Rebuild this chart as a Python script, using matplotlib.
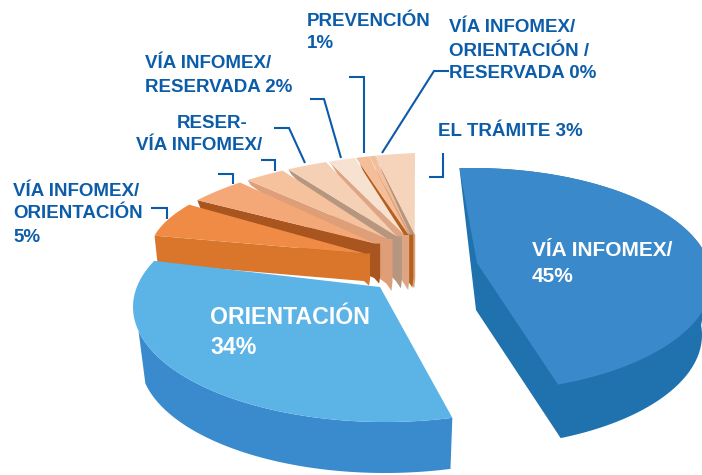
import numpy as np
import matplotlib
matplotlib.use("Agg")
import matplotlib.pyplot as plt

plt.rcParams['font.family'] = ['Liberation Sans', 'DejaVu Sans']

# --- data (percent, clockwise from the large slice) -------------------
categories = ["VÍA INFOMEX", "ORIENTACIÓN", "VÍA INFOMEX/ORIENTACIÓN", "(sin leer 1)",
              "RESER-/VÍA INFOMEX", "(sin leer 2)", "VÍA INFOMEX/RESERVADA", "PREVENCIÓN",
              "VÍA INFOMEX/ORIENTACIÓN/RESERVADA", "EL TRÁMITE"]
values = [45, 34, 5, 4, 3, 3, 2, 1, 0.4, 3]

# --- styles for the fan of small slices, left to right ----------------
fan_top = ['#F08B45', '#F4A878', '#F6C29E', '#F5D0B5', '#F7E1D1', '#F3BE99', '#F3BE99', '#F6D3BB']
fan_wall = ['#D9762B', '#A9551F', '#DE9F78', '#B79680', '#DDA583', '#B5601F', '#D9A27D', '#B8967E']
fan_drop_outer = [28, 8, 5, 5, 4, 4, 2, 2]
fan_drop_inner = [32, 40, 52, 52, 55, 53, 54, 49]
TEXT = '#0C5DA9'

fig = plt.figure(figsize=(7.02, 4.75), dpi=100)
ax = fig.add_axes([0, 0, 1, 1])
ax.set_xlim(0, 702)
ax.set_ylim(475, 0)
ax.axis('off')


def arc(cx, cy, rx, ry, t0, t1, n=80):
    t = np.radians(np.linspace(t0, t1, n))
    return np.column_stack([cx + rx * np.sin(t), cy - ry * np.cos(t)])


def warp(theta):
    return theta * (0.80 + 0.23 * (abs(theta) / 77.0) ** 2)


# --- small slices: painted from the right-hand one to the left-hand one
small = values[2:]
ends = -np.cumsum(small[::-1]) * 3.6          # left edges, from the top going left
starts = np.concatenate([[0.0], ends[:-1]])   # right edges
FCX, FCY, FRX, FRY = 415, 240, 265, 87
n = len(small)
for k in range(n):                            # k = 0 is the right-most slice
    i = n - 1 - k
    t_left = warp(ends[k])
    t_right = warp(starts[k])
    t_right -= max(0.0, 0.07 * abs(t_right) - 0.6)
    mid = 0.5 * (t_left + t_right)
    ax_x = FCX + max(0.9 * min(mid + 4, 0), -50)
    ax_y = FCY - 6 + 19 * (mid / 68.0) ** 2
    outer = arc(FCX, FCY, FRX, FRY, t_left, t_right, 24)
    outer[:, 1] += 0.045 * np.abs(outer[:, 0] - FCX)
    apex = np.array([ax_x, ax_y])
    w = 5 if k > 0 else 0
    wall = np.array([outer[0], apex,
                     apex + [w, 0],
                     apex + [w, fan_drop_inner[i] * 0.82],
                     apex + [w - 1, fan_drop_inner[i]],
                     apex + [w - 6, fan_drop_inner[i] * 0.86],
                     outer[0] + [3, fan_drop_outer[i]]])
    ax.fill(wall[:, 0], wall[:, 1], color=fan_wall[i], lw=0, zorder=2 + k * 0.01)
    poly = np.vstack([outer, apex])
    ax.fill(poly[:, 0], poly[:, 1], color=fan_top[i], lw=0, zorder=2 + k * 0.01 + 0.005)

# --- ORIENTACIÓN ------------------------------------------------------
t1 = 164.5
t0 = t1 + values[1] * 3.6 * 1.055
wall_end = 258
top_part = arc(385, 307, 252, 115, t1, wall_end)
bot_part = arc(385, 360, 245, 113, wall_end, t1)
wall = np.vstack([top_part, bot_part])
ax.fill(wall[:, 0], wall[:, 1], color='#3A8BCD', lw=0, zorder=3)
face = np.vstack([[[380, 287]], arc(385, 307, 252, 115, t1, t0)])
ax.fill(face[:, 0], face[:, 1], color='#5BB3E6', lw=0, zorder=3.1)

# --- VÍA INFOMEX ------------------------------------------------------
t0b = -3
t1b = t0b + values[0] * 3.6
apexb = np.array([477, 263])
corner = arc(472, 280, 240, 112, t0b, t0b, 1)[0]
wall = np.vstack([[corner], [apexb + [-1, 47]],
                  arc(470, 335, 232, 112, t1b - 2, 85),
                  arc(472, 280, 240, 112, 85, t0b)])
ax.fill(wall[:, 0], wall[:, 1], color='#1F72AE', lw=0, zorder=3)
face = np.vstack([[apexb], arc(472, 280, 240, 112, t0b, t1b)])
ax.fill(face[:, 0], face[:, 1], color='#3A8ACB', lw=0, zorder=3.1)

# --- leader lines -----------------------------------------------------
leaders = [[(151, 208), (167, 208), (167, 219)],
           [(218, 174), (233, 174), (233, 184)],
           [(261, 160), (275, 160), (275, 171)],
           [(274, 128), (289, 128), (305, 163)],
           [(310, 99), (324, 99), (341, 158)],
           [(349, 77), (364, 77), (364, 153)],
           [(449, 71), (434, 71), (382, 153)],
           [(443, 153), (443, 177), (429, 177)]]
for pts in leaders:
    p = np.array(pts)
    ax.plot(p[:, 0], p[:, 1], color='#0C5BA8', lw=1.5, solid_joinstyle='miter',
            solid_capstyle='butt', zorder=4)

# --- labels -----------------------------------------------------------
labels = [("PREVENCIÓN", 307, 22), ("1%", 307, 44),
          ("VÍA INFOMEX/", 449, 28), ("ORIENTACIÓN /", 449, 51), ("RESERVADA 0%", 449, 73),
          ("VÍA INFOMEX/", 145, 64), ("RESERVADA 2%", 145, 87),
          ("RESER-", 177, 123), ("VÍA INFOMEX/", 136, 145),
          ("EL TRÁMITE 3%", 438, 132),
          ("VÍA INFOMEX/", 13, 191), ("ORIENTACIÓN", 13, 214), ("5%", 13, 237)]
for s, x, y in labels:
    ax.text(x, y, s, color=TEXT, fontsize=13.5, fontweight='bold', ha='left', va='center', zorder=5)
ax.text(210, 318, "ORIENTACIÓN", color='white', fontsize=16.7, fontweight='bold', va='center', zorder=5)
ax.text(210, 347, "34%", color='white', fontsize=16.7, fontweight='bold', va='center', zorder=5)
ax.text(532, 250, "VÍA INFOMEX/", color='white', fontsize=15, fontweight='bold', va='center', zorder=5)
ax.text(532, 277, "45%", color='white', fontsize=15, fontweight='bold', va='center', zorder=5)

fig.savefig('out.png', dpi=100)
